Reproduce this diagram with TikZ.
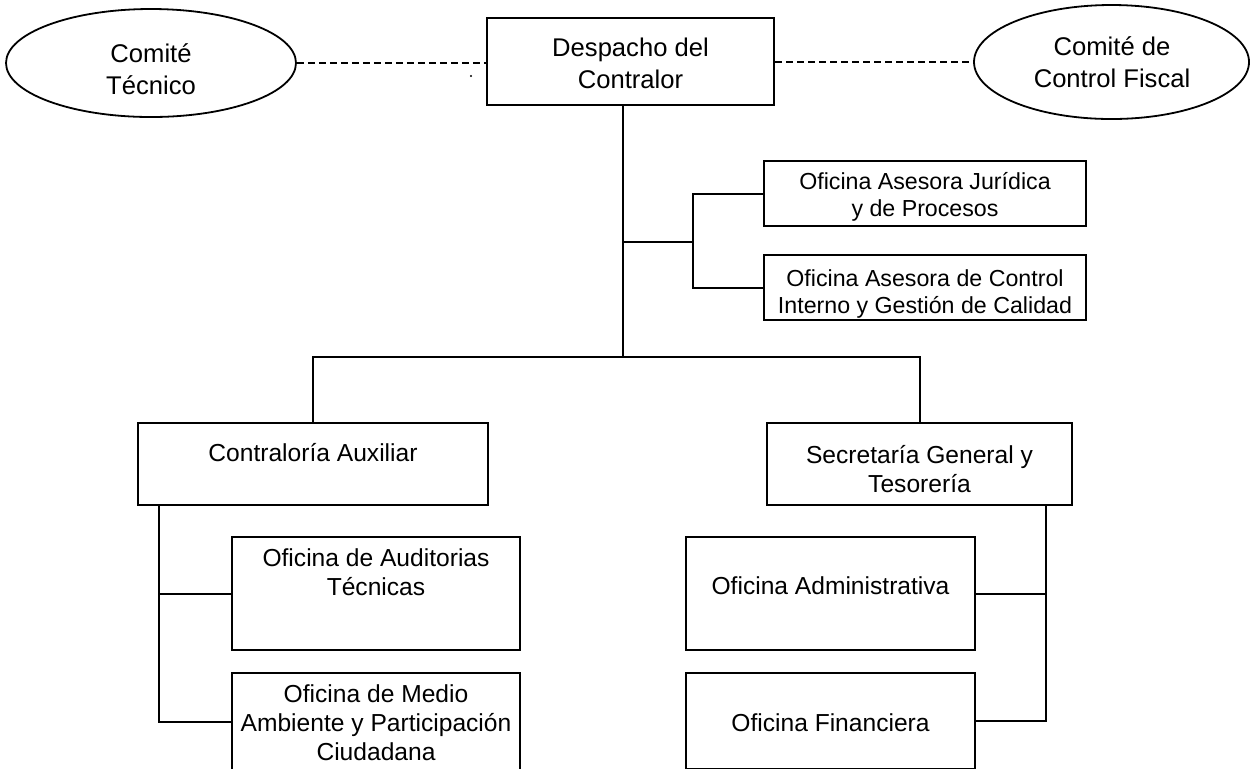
\documentclass[tikz,border=0pt]{standalone}
\usepackage{fontspec}
\setmainfont{Liberation Sans}
\usetikzlibrary{fit,shapes.geometric}
\newcommand{\mystrut}{\rule[-0.3em]{0pt}{1.316em}}
\begin{document}
\lineskiplimit=-100pt\relax
\begin{tikzpicture}[x=0.5pt,y=-0.5pt,
  box/.style={draw, line width=1pt, inner sep=0pt},
  ell/.style={draw, ellipse, line width=0.9pt, inner sep=0pt},
  txtbig/.style={align=center, inner sep=0pt, font=\fontsize{12.8pt}{16pt}\selectfont},
  txtmain/.style={align=center, inner sep=0pt, font=\fontsize{12.3pt}{14.5pt}\selectfont},
  txtsmall/.style={align=center, inner sep=0pt, font=\fontsize{11.6pt}{13.5pt}\selectfont},
  conn/.style={line width=1pt},
  dashconn/.style={line width=1pt, dash pattern=on 3.5pt off 2pt}]
\useasboundingbox (0,0) rectangle (1251,768);
\clip (0,0) rectangle (1251,768);

% top level
\node[ell, minimum width=145pt, minimum height=54pt] (CT) at (151,63) {};
\node[txtbig] (CTt) at (151,69) {\mystrut Comité\\\mystrut Técnico};
\node[box, fit={(487,18) (774,105)}] (Desp) {};
\node[txtbig] (Despt) at (630.5,63) {\mystrut Despacho del\\\mystrut Contralor};
\node[ell, minimum width=137.5pt, minimum height=57pt] (CF) at (1111.5,62) {};
\node[txtbig] (CFt) at (1112,62.5) {\mystrut Comité de\\\mystrut Control Fiscal};

% staff offices
\node[box, fit={(764,161) (1086,226)}] (Jur) {};
\node[txtsmall] (Jurt) at (925,195) {\mystrut Oficina Asesora Jurídica\\\mystrut y de Procesos};
\node[box, fit={(764,255) (1086,320)}] (Ctrl) {};
\node[txtsmall] (Ctrlt) at (925,292) {\mystrut Oficina Asesora de Control\\\mystrut Interno y Gestión de Calidad};

% second level
\node[box, fit={(138,423) (488,505)}] (Contra) {};
\node[txtmain] (Contrat) at (313,453) {\mystrut Contraloría Auxiliar};
\node[box, fit={(767,423) (1072,505)}] (Sec) {};
\node[txtmain] (Sect) at (919.5,469) {\mystrut Secretaría General y\\\mystrut Tesorería};

% third level
\node[box, fit={(232,537) (520,650)}] (Aud) {};
\node[txtmain] (Audt) at (376,572) {\mystrut Oficina de Auditorias\\\mystrut Técnicas};
\node[box, fit={(232,673) (520,771)}] (Med) {};
\node[txtmain] (Medt) at (376,723) {\mystrut Oficina de Medio\\\mystrut Ambiente y Participación\\\mystrut Ciudadana};
\node[box, fit={(686,537) (975,650)}] (Adm) {};
\node[txtmain] (Admt) at (830.5,586) {\mystrut Oficina Administrativa};
\node[box, fit={(686,673) (975,769)}] (Fin) {};
\node[txtmain] (Fint) at (830.5,723) {\mystrut Oficina Financiera};

% junction coordinates
\coordinate (jA) at (623,242);
\coordinate (jB) at (623,357);
\coordinate (jC) at (693,242);
\coordinate (lt) at (159,505);
\coordinate (rt) at (1046,505);
\coordinate (dot) at (471,76);

% dashed links
\draw[dashconn] (CT.east) -- (Desp.west |- CT.east);
\draw[dashconn] (Desp.east |- CF.west) -- (CF.west);
\fill (dot) circle (0.6pt);

% solid connectors
\draw[conn] (Desp.south -| jA) -- (jB);
\draw[conn] (jA) -- (jC);
\draw[conn] (Jur.west) -| (jC) |- (Ctrl.west);
\draw[conn] (Contra.north) |- (jB) -| (Sec.north);
\draw[conn] (Contra.south -| lt) |- (Med.west);
\draw[conn] (Aud.west) -- (Aud.west -| lt);
\draw[conn] (Sec.south -| rt) |- (Fin.east);
\draw[conn] (Adm.east) -- (Adm.east -| rt);
\end{tikzpicture}
\end{document}
